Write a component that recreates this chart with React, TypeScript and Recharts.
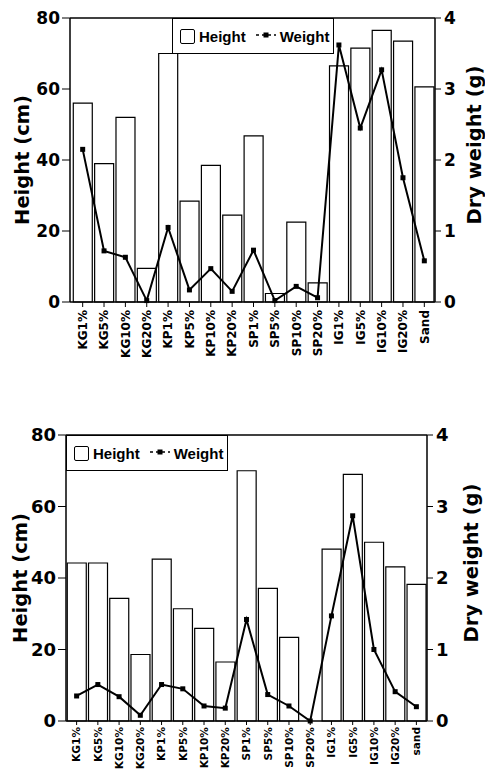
import React from 'react';
import { ComposedChart, Bar, Line, XAxis, YAxis, ReferenceLine, Legend } from 'recharts';

// ---- Top chart data ----
const categoriesTop = ['KG1%', 'KG5%', 'KG10%', 'KG20%', 'KP1%', 'KP5%', 'KP10%', 'KP20%', 'SP1%', 'SP5%', 'SP10%', 'SP20%', 'IG1%', 'IG5%', 'IG10%', 'IG20%', 'Sand'];
const heightTop = [56, 39, 52, 9.5, 70, 28.4, 38.5, 24.5, 46.8, 2.4, 22.5, 5.4, 66.5, 71.5, 76.5, 73.5, 60.6];
const weightTop = [2.15, 0.72, 0.63, 0.02, 1.05, 0.17, 0.47, 0.15, 0.73, 0.02, 0.22, 0.06, 3.62, 2.45, 3.27, 1.75, 0.58];

// ---- Bottom chart data ----
const categoriesBottom = ['KG1%', 'KG5%', 'KG10%', 'KG20%', 'KP1%', 'KP5%', 'KP10%', 'KP20%', 'SP1%', 'SP5%', 'SP10%', 'SP20%', 'IG1%', 'IG5%', 'IG10%', 'IG20%', 'sand'];
const heightBottom = [44.2, 44.2, 34.3, 18.6, 45.3, 31.4, 25.9, 16.5, 70, 37.1, 23.4, 0, 48.1, 69, 50, 43.1, 38.2];
const weightBottom = [0.35, 0.51, 0.34, 0.08, 0.51, 0.45, 0.21, 0.18, 1.42, 0.37, 0.21, 0, 1.47, 2.87, 1.0, 0.41, 0.2];

const leftTicks = [0, 20, 40, 60, 80];
const leftMinorTicks = [10, 30, 50, 70];
const rightTicks = [0, 1, 2, 3, 4];
const rightMinorTicks = [0.5, 1.5, 2.5, 3.5];

const TICK_FONT = '"DejaVu Sans", sans-serif';
const LEGEND_FONT = '"Liberation Sans", Arial, sans-serif';

const SquareDot = (props: any) => {
  const { cx, cy } = props;
  if (cx == null || cy == null) return null;
  return <rect x={cx - 2.5} y={cy - 2.5} width={5} height={5} fill="#000" />;
};

const makeXTick = (fontSize: number) => (props: any) => {
  const { x, y, payload } = props;
  return (
    <g transform={`translate(${x},${y})`}>
      <text x={0} y={0} dy="0.36em" textAnchor="end" transform="rotate(-90)" fontFamily={TICK_FONT} fontWeight="bold" fontSize={fontSize} fill="#000">
        {payload.value}
      </text>
    </g>
  );
};

const LegendBox = () => (
  <div style={{ width: '100%', height: '100%', boxSizing: 'border-box', border: '1.5px solid #000', background: '#fff', display: 'flex', alignItems: 'center', paddingLeft: 7, fontFamily: LEGEND_FONT, fontWeight: 'bold', fontSize: 15, color: '#000' }}>
    <div style={{ width: 15, height: 15, boxSizing: 'border-box', border: '1.5px solid #000', borderRadius: 2, marginRight: 4 }} />
    <span>Height</span>
    <svg width={24} height={12} style={{ marginLeft: 8, marginRight: 2 }}>
      <line x1={2} y1={5} x2={22} y2={5} stroke="#000" strokeWidth={1.5} strokeDasharray="3 3" />
      <rect x={9.5} y={2.5} width={5} height={5} fill="#000" />
    </svg>
    <span>Weight</span>
  </div>
);

interface PanelProps {
  categories: string[];
  heights: number[];
  weights: number[];
  chartHeight: number;
  xAxisHeight: number;
  leftWidth: number;
  rightWidth: number;
  tickFont: number;
  xTickFont: number;
  xTickSize: number;
  xTickMargin: number;
  xPadLeft: number;
  legendLeft: number;
  leftTitleX: number;
  rightTitleX: number;
  titleFont: number;
}

const Panel = (p: PanelProps) => {
  const data = p.categories.map((c, i) => ({ cat: c, height: p.heights[i], weight: p.weights[i] }));
  const tickStyle = { fontFamily: TICK_FONT, fontWeight: 'bold' as const, fontSize: p.tickFont, fill: '#000' };
  return (
    <ComposedChart width={485} height={p.chartHeight} data={data} margin={{ top: 18, right: 0, bottom: 0, left: 0 }} barCategoryGap="6%">
      <XAxis
        dataKey="cat"
        interval={0}
        height={p.xAxisHeight}
        tick={makeXTick(p.xTickFont)}
        tickSize={p.xTickSize}
        tickMargin={p.xTickMargin}
        axisLine={{ stroke: '#000', strokeWidth: 1.5 }}
        tickLine={{ stroke: '#000' }}
        padding={{ left: p.xPadLeft, right: 0 }}
      />
      <YAxis
        yAxisId="left"
        orientation="left"
        domain={[0, 80]}
        ticks={leftTicks}
        width={p.leftWidth}
        tickSize={8}
        tickMargin={2}
        tick={tickStyle}
        axisLine={{ stroke: '#000', strokeWidth: 1.5 }}
        tickLine={{ stroke: '#000' }}
        label={{
          content: (lp: any) => {
            const vb = lp.viewBox || {};
            const cy = (vb.y || 0) + (vb.height || 0) / 2;
            return (
              <text x={p.leftTitleX} y={cy} transform={`rotate(-90, ${p.leftTitleX}, ${cy})`} textAnchor="middle" fontFamily={TICK_FONT} fontWeight="bold" fontSize={p.titleFont} fill="#000">
                Height (cm)
              </text>
            );
          },
        }}
      />
      <YAxis
        yAxisId="leftMinor"
        orientation="left"
        domain={[0, 80]}
        ticks={leftMinorTicks}
        mirror
        width={0}
        tickSize={4}
        tickFormatter={() => ''}
        axisLine={false}
        tickLine={{ stroke: '#000' }}
      />
      <YAxis
        yAxisId="right"
        orientation="right"
        domain={[0, 4]}
        ticks={rightTicks}
        width={p.rightWidth}
        tickSize={6}
        tickMargin={3}
        tick={tickStyle}
        axisLine={{ stroke: '#000', strokeWidth: 1.5 }}
        tickLine={{ stroke: '#000' }}
        label={{
          content: (lp: any) => {
            const vb = lp.viewBox || {};
            const cy = (vb.y || 0) + (vb.height || 0) / 2 - 15;
            return (
              <text x={p.rightTitleX} y={cy} transform={`rotate(-90, ${p.rightTitleX}, ${cy})`} textAnchor="middle" fontFamily={TICK_FONT} fontWeight="bold" fontSize={p.titleFont} fill="#000">
                Dry weight (g)
              </text>
            );
          },
        }}
      />
      <YAxis
        yAxisId="rightMinor"
        orientation="right"
        domain={[0, 4]}
        ticks={rightMinorTicks}
        mirror
        width={0}
        tickSize={4}
        tickFormatter={() => ''}
        axisLine={false}
        tickLine={{ stroke: '#000' }}
      />
      <ReferenceLine yAxisId="left" y={80} stroke="#000" strokeWidth={1.5} />
      <Bar yAxisId="left" dataKey="height" name="Height" fill="#fff" stroke="#000" strokeWidth={1.2} isAnimationActive={false} />
      <Line yAxisId="right" dataKey="weight" name="Weight" type="linear" stroke="#000" strokeWidth={2} dot={<SquareDot />} activeDot={false} isAnimationActive={false} />
      <Legend
        layout="vertical"
        align="center"
        verticalAlign="middle"
        content={() => <LegendBox />}
        wrapperStyle={{ position: 'absolute', left: p.legendLeft, top: 18, width: 162, height: 36, margin: 0, padding: 0 }}
      />
    </ComposedChart>
  );
};

export default function App() {
  return (
    <div style={{ position: 'absolute', left: 0, top: 0, width: 485, height: 771, background: '#fff', overflow: 'hidden' }}>
      <div style={{ position: 'absolute', left: 0, top: 0 }}>
        <Panel
          categories={categoriesTop}
          heights={heightTop}
          weights={weightTop}
          chartHeight={360}
          xAxisHeight={58}
          leftWidth={70}
          rightWidth={50}
          tickFont={17}
          xTickFont={12}
          xTickSize={5}
          xTickMargin={3}
          xPadLeft={2}
          legendLeft={172}
          leftTitleX={29}
          rightTitleX={481}
          titleFont={19.5}
        />
      </div>
      <div style={{ position: 'absolute', left: 0, top: 417 }}>
        <Panel
          categories={categoriesBottom}
          heights={heightBottom}
          weights={weightBottom}
          chartHeight={354}
          xAxisHeight={50}
          leftWidth={66}
          rightWidth={58}
          tickFont={18}
          xTickFont={10.6}
          xTickSize={4}
          xTickMargin={2}
          xPadLeft={0}
          legendLeft={66}
          leftTitleX={27}
          rightTitleX={478}
          titleFont={19.5}
        />
      </div>
    </div>
  );
}
